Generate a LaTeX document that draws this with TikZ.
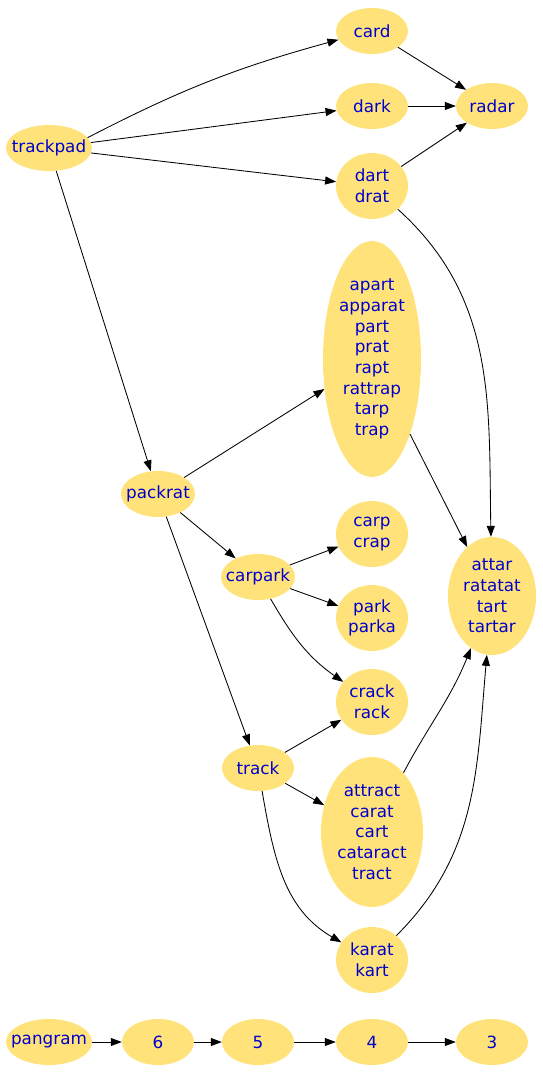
\documentclass[tikz,border=0pt]{standalone}
\usepackage{fontspec}
\setmainfont{DejaVu Sans}
\usetikzlibrary{shapes.geometric,arrows.meta}
\definecolor{nodefill}{RGB}{255,227,122}
\definecolor{nodetext}{RGB}{0,0,205}
\begin{document}
\begin{tikzpicture}[x=1pt,y=-1pt,
  n/.style={ellipse, fill=nodefill, inner sep=0pt},
  every label/.style={align=center, text=nodetext, inner sep=0pt,
    font=\fontsize{16.8}{20.7}\selectfont},
  e/.style={-{Triangle[length=11pt,width=8pt]}, line width=0.85pt, black}]
\useasboundingbox (0,0) rectangle (542,1072);
% nodes
\node[n, minimum width=72, minimum height=46, label={center:card}] (card) at (372,31) {};
\node[n, minimum width=72, minimum height=46, label={center:dark}] (dark) at (372,106) {};
\node[n, minimum width=72, minimum height=46, label={center:radar}] (radar) at (492,106) {};
\node[n, minimum width=72, minimum height=66, label={center:{dart\\drat}}] (dart) at (372,186) {};
\node[n, minimum width=86, minimum height=46, label={center:trackpad}] (trackpad) at (49,148) {};
\node[n, minimum width=98, minimum height=236, label={center:{apart\\apparat\\part\\prat\\rapt\\rattrap\\tarp\\trap}}] (apart) at (372,359) {};
\node[n, minimum width=74, minimum height=46, label={center:packrat}] (packrat) at (158,494) {};
\node[n, minimum width=72, minimum height=66, label={center:{carp\\crap}}] (carp) at (372,534) {};
\node[n, minimum width=74, minimum height=46, label={center:carpark}] (carpark) at (258,577) {};
\node[n, minimum width=72, minimum height=66, label={center:{park\\parka}}] (park) at (372,618) {};
\node[n, minimum width=88, minimum height=118, label={center:{attar\\ratatat\\tart\\tartar}}] (attar) at (492,596) {};
\node[n, minimum width=72, minimum height=66, label={center:{crack\\rack}}] (crack) at (372,702) {};
\node[n, minimum width=72, minimum height=46, label={center:track}] (track) at (258,768) {};
\node[n, minimum width=102, minimum height=150, label={center:{attract\\carat\\cart\\cataract\\tract}}] (attract) at (372,832) {};
\node[n, minimum width=72, minimum height=66, label={center:{karat\\kart}}] (karat) at (372,960) {};
\node[n, minimum width=86, minimum height=46, label={center:pangram}] (pangram) at (49,1042) {};
\node[n, minimum width=72, minimum height=46, label={center:6}] (s6) at (158,1042) {};
\node[n, minimum width=72, minimum height=46, label={center:5}] (s5) at (258,1042) {};
\node[n, minimum width=72, minimum height=46, label={center:4}] (s4) at (372,1042) {};
\node[n, minimum width=72, minimum height=46, label={center:3}] (s3) at (492,1042) {};
% edges
\draw[e] (trackpad.15) to[bend left=6] (card);
\draw[e] (trackpad) -- (dark);
\draw[e] (trackpad) -- (dart);
\draw[e] (card) -- (radar);
\draw[e] (dark) -- (radar);
\draw[e] (dart) -- (radar);
\draw[e] (dart) to[out=-42, in=91] (attar);
\draw[e] (trackpad) -- (packrat);
\draw[e] (packrat) -- (apart);
\draw[e] (apart) -- (attar);
\draw[e] (packrat) -- (carpark);
\draw[e] (packrat) -- (track);
\draw[e] (carpark) -- (carp);
\draw[e] (carpark) -- (park);
\draw[e] (carpark) to[out=-60, in=145] (crack);
\draw[e] (track) -- (crack);
\draw[e] (track) -- (attract);
\draw[e] (track) to[out=-80, in=150] (karat);
\draw[e] (attract) to[out=62, in=-112] (attar);
\draw[e] (karat) to[out=45, in=-95] (attar);
\draw[e] (pangram) -- (s6);
\draw[e] (s6) -- (s5);
\draw[e] (s5) -- (s4);
\draw[e] (s4) -- (s3);
\end{tikzpicture}
\end{document}
